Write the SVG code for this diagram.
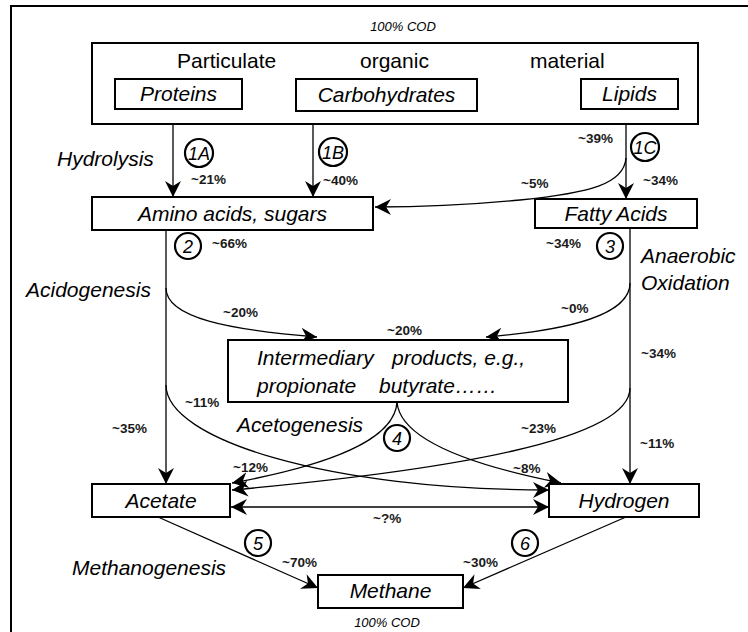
<svg xmlns="http://www.w3.org/2000/svg" width="748" height="632" viewBox="0 0 748 632">
<style>
  .box{fill:#fff;stroke:#000;stroke-width:2}
  .lbl{font-family:"Liberation Sans",Arial,sans-serif;font-size:21px;font-style:italic;fill:#000}
  .reg{font-family:"Liberation Sans",Arial,sans-serif;font-size:21px;fill:#000}
  .pct{font-family:"Liberation Sans",Arial,sans-serif;font-size:13.5px;font-weight:bold;fill:#1a1a1a}
  .cod{font-family:"Liberation Sans",Arial,sans-serif;font-size:13px;font-style:italic;fill:#000}
  .num{font-family:"Liberation Sans",Arial,sans-serif;font-size:18px;font-style:italic;fill:#000;text-anchor:middle}
  .circ{fill:#fff;stroke:#000;stroke-width:2.2}
  .con{fill:none;stroke:#000;stroke-width:1.3}
  .arr{marker-end:url(#ah)}
  .arrs{marker-start:url(#ahs)}
  .mid{text-anchor:middle}
</style>
<defs>
  <marker id="ah" markerUnits="userSpaceOnUse" markerWidth="17" markerHeight="16" refX="16" refY="8" orient="auto">
    <path d="M0,0 L16,8 L0,16 L5,8 z" fill="#000"/>
  </marker>
  <marker id="ahs" markerUnits="userSpaceOnUse" markerWidth="17" markerHeight="16" refX="0" refY="8" orient="auto">
    <path d="M16,0 L0,8 L16,16 L11,8 z" fill="#000"/>
  </marker>
</defs>
<rect x="11" y="6" width="760" height="660" fill="#fff" stroke="#000" stroke-width="2"/>

<g id="connectors">
  <line class="con arr" x1="173" y1="109" x2="173" y2="197"/>
  <line class="con arr" x1="313" y1="111" x2="313" y2="197"/>
  <line class="con arr" x1="626" y1="109" x2="626" y2="199"/>
  <path class="con arr" d="M626,158 C624,184 590,193 520,200 C470,205 420,207 375,207"/>
  <line class="con arr" x1="166" y1="230" x2="166" y2="484"/>
  <path class="con arr" d="M166,288 C166,318 230,330 317,337"/>
  <path class="con arr" d="M166,385 C166,440 330,490 549,490"/>
  <line class="con arr" x1="630" y1="228" x2="630" y2="484"/>
  <path class="con arr" d="M630,283 C630,315 570,330 486,337"/>
  <path class="con arr" d="M630,388 C630,440 450,470 232,490"/>
  <path class="con arr" d="M397,402 C395,440 330,465 232,483"/>
  <path class="con arr" d="M397,402 C400,440 470,465 561,483"/>
  <line class="con arr arrs" x1="231" y1="507" x2="549" y2="507"/>
  <path class="con arr" d="M158,517 L318,588"/>
  <path class="con arr" d="M626,517 L463,588"/>
</g>

<text class="cod mid" x="403" y="31">100% COD</text>

<g id="particulate">
  <rect class="box" x="92" y="43" width="606" height="81"/>
  <text class="reg" x="177" y="68">Particulate</text>
  <text class="reg" x="360" y="68">organic</text>
  <text class="reg" x="530" y="68">material</text>
</g>
<g id="proteins">
  <rect class="box" x="115" y="79" width="127" height="30"/>
  <text class="lbl mid" x="178.5" y="101">Proteins</text>
</g>
<g id="carbohydrates">
  <rect class="box" x="296" y="79" width="181" height="32"/>
  <text class="lbl mid" x="386.5" y="102">Carbohydrates</text>
</g>
<g id="lipids">
  <rect class="box" x="581" y="79" width="97" height="30"/>
  <text class="lbl mid" x="629.5" y="101">Lipids</text>
</g>
<g id="amino">
  <rect class="box" x="92" y="197" width="281" height="33"/>
  <text class="lbl mid" x="232.5" y="221">Amino acids, sugars</text>
</g>
<g id="fatty">
  <rect class="box" x="535" y="199" width="162" height="29"/>
  <text class="lbl mid" x="616" y="221">Fatty Acids</text>
</g>
<g id="intermediary">
  <rect class="box" x="228" y="340" width="340" height="62"/>
  <text class="lbl" x="257" y="365">Intermediary</text>
  <text class="lbl" x="392" y="365">products, e.g.,</text>
  <text class="lbl" x="257" y="393">propionate</text>
  <text class="lbl" x="379" y="393">butyrate……</text>
</g>
<g id="acetate">
  <rect class="box" x="92" y="484" width="138" height="33"/>
  <text class="lbl mid" x="161" y="508">Acetate</text>
</g>
<g id="hydrogen">
  <rect class="box" x="549" y="484" width="150" height="33"/>
  <text class="lbl mid" x="624" y="508">Hydrogen</text>
</g>
<g id="methane">
  <rect class="box" x="318" y="575" width="145" height="33"/>
  <text class="lbl mid" x="390.5" y="598">Methane</text>
</g>
<text class="cod mid" x="387" y="627">100% COD</text>

<g id="steps">
  <circle class="circ" cx="199" cy="153" r="14"/><text class="num" x="199" y="159.5">1A</text>
  <circle class="circ" cx="333" cy="152" r="14"/><text class="num" x="333" y="158.5">1B</text>
  <circle class="circ" cx="645" cy="147" r="14"/><text class="num" x="645" y="153.5">1C</text>
  <circle class="circ" cx="188" cy="246" r="13"/><text class="num" x="188" y="252.5">2</text>
  <circle class="circ" cx="610" cy="246" r="13"/><text class="num" x="610" y="252.5">3</text>
  <circle class="circ" cx="397" cy="438" r="13"/><text class="num" x="397" y="444.5">4</text>
  <circle class="circ" cx="258" cy="543" r="13"/><text class="num" x="258" y="549.5">5</text>
  <circle class="circ" cx="525" cy="543" r="13"/><text class="num" x="525" y="549.5">6</text>
</g>

<g id="stages">
  <text class="lbl" x="57" y="166">Hydrolysis</text>
  <text class="lbl" x="26" y="297">Acidogenesis</text>
  <text class="lbl" x="641" y="263">Anaerobic</text>
  <text class="lbl" x="641" y="290">Oxidation</text>
  <text class="lbl" x="237" y="432">Acetogenesis</text>
  <text class="lbl" x="72" y="575">Methanogenesis</text>
</g>

<g id="percentages">
  <text class="pct" x="191" y="184">~21%</text>
  <text class="pct" x="323" y="185">~40%</text>
  <text class="pct" x="578" y="143">~39%</text>
  <text class="pct" x="521" y="188">~5%</text>
  <text class="pct" x="643" y="185">~34%</text>
  <text class="pct" x="212" y="248">~66%</text>
  <text class="pct" x="546" y="248">~34%</text>
  <text class="pct" x="223" y="317">~20%</text>
  <text class="pct" x="387" y="335">~20%</text>
  <text class="pct" x="561" y="313">~0%</text>
  <text class="pct" x="641" y="358">~34%</text>
  <text class="pct" x="185" y="407">~11%</text>
  <text class="pct" x="112" y="433">~35%</text>
  <text class="pct" x="521" y="433">~23%</text>
  <text class="pct" x="640" y="448">~11%</text>
  <text class="pct" x="233" y="472">~12%</text>
  <text class="pct" x="513" y="473">~8%</text>
  <text class="pct" x="373" y="523">~?%</text>
  <text class="pct" x="282" y="567">~70%</text>
  <text class="pct" x="463" y="567">~30%</text>
</g>
</svg>
